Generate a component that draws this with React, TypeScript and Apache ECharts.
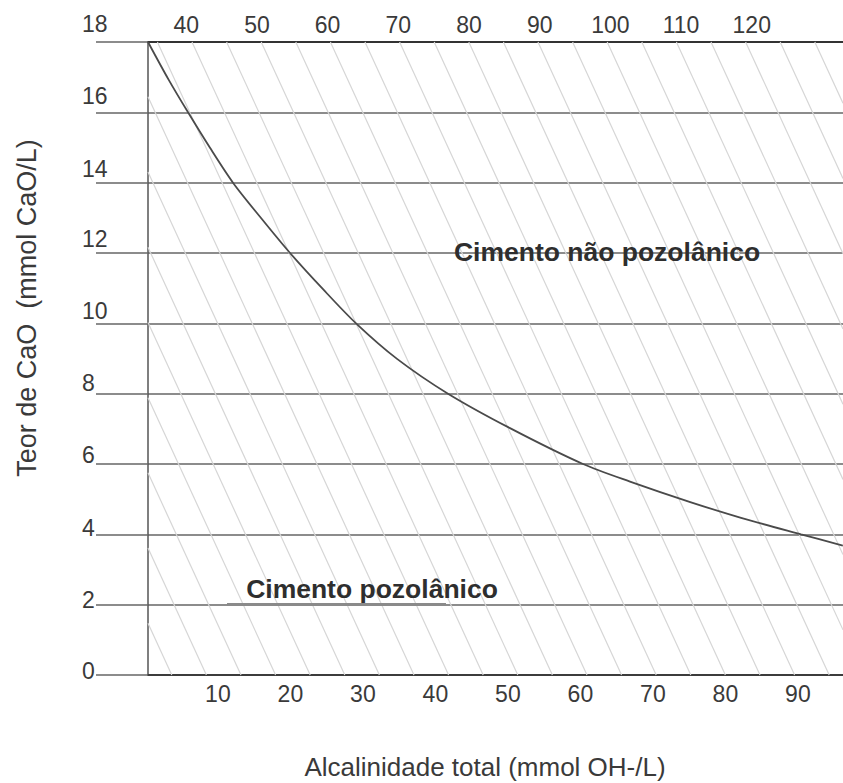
import React, { useEffect, useRef } from "react";
import * as echarts from "echarts";

// ---- data ----
const bottomTicks = [10, 20, 30, 40, 50, 60, 70, 80, 90];
const topTicks = [40, 50, 60, 70, 80, 90, 100, 110, 120];
const yTicks = [0, 2, 4, 6, 8, 10, 12, 14, 16, 18];
const curveX = [0.36, 3.2, 5.88, 8.91, 12.08, 15.81, 19.95, 24.5, 29.05, 34.71, 41.74, 50.29, 60.36, 66.84, 75.26, 82.16, 90.43, 96.2];
const curveY = [18, 16.93, 16, 14.99, 14, 13.03, 12, 10.97, 10, 8.99, 8, 7.02, 6, 5.5, 4.91, 4.47, 4, 3.68];
const pozolanicLine = [11.26, 41.46]; // x-range of the darker segment on the 2 line
const labelNaoPozolanico = "Cimento não pozolânico";
const labelPozolanico = "Cimento pozolânico";
const xTitle = "Alcalinidade total (mmol OH-/L)";
const yTitle = "Teor de CaO  (mmol CaO/L)";

// per-label vertical lift (px) of y tick labels, as in the scan
const yLabelLift: Record<number, number> = { 18: 18, 16: 16, 14: 14, 12: 14, 10: 12, 8: 11, 6: 9, 4: 6, 2: 5, 0: 4 };

const FONT = "'Liberation Sans', Arial, Helvetica, sans-serif";
const TEXT = "#3a3a3a";

export default function App() {
  const ref = useRef<HTMLDivElement>(null);

  useEffect(() => {
    if (!ref.current) return;
    const chart = echarts.init(ref.current, undefined, { renderer: "svg" });

    const rich: Record<string, any> = {};
    yTicks.forEach((v) => {
      rich["o" + v] = {
        fontSize: 23,
        fontFamily: FONT,
        color: TEXT,
        padding: [0, 0, 2 * yLabelLift[v], 0],
      };
    });

    const curveData = curveX.map((x, i) => [x, curveY[i]]);

    const option: any = {
      animation: false,
      backgroundColor: "#ffffff",
      grid: { left: 148, right: 0, top: 42, bottom: 108, containLabel: false },
      xAxis: [
        {
          type: "value",
          position: "bottom",
          min: 0.36,
          max: 96.22,
          axisLine: { show: true, lineStyle: { color: "#3c3c3c", width: 2 } },
          axisTick: { show: false },
          splitLine: { show: false },
          axisLabel: {
            customValues: bottomTicks,
            fontSize: 23,
            fontFamily: FONT,
            color: TEXT,
            margin: 7,
          },
        },
        {
          type: "value",
          position: "top",
          min: 34.59,
          max: 132.91,
          axisLine: { show: true, onZero: false, lineStyle: { color: "#333333", width: 2 } },
          axisTick: { show: false },
          splitLine: { show: false },
          axisLabel: {
            customValues: topTicks,
            fontSize: 23,
            fontFamily: FONT,
            color: TEXT,
            margin: 6,
          },
        },
      ],
      yAxis: {
        type: "value",
        min: 0,
        max: 18,
        interval: 2,
        axisLine: { show: true, lineStyle: { color: "#555555", width: 1.5 } },
        axisTick: { show: true, inside: false, length: 52, lineStyle: { color: "#666666", width: 1.5 } },
        splitLine: { show: true, lineStyle: { color: "#666666", width: 1.5 } },
        axisLabel: {
          align: "left",
          margin: 66,
          formatter: (v: number) => `{o${v}|${v}}`,
          rich,
        },
      },
      series: [
        {
          type: "custom",
          silent: true,
          z: 1,
          xAxisIndex: 0,
          yAxisIndex: 0,
          data: [[0, 0]],
          renderItem: (params: any) => {
            const cs = params.coordSys;
            const x0 = cs.x, y0 = cs.y, w = cs.width, h = cs.height;
            const s = 0.46; // horizontal run per vertical px
            const step = 34.6;
            const children: any[] = [];
            let k = 192;
            while (k > x0 - s * h) k -= step;
            for (; k < x0 + w; k += step) {
              const yA = Math.max(y0, y0 + (x0 - k) / s);
              const yB = Math.min(y0 + h, y0 + (x0 + w - k) / s);
              if (yB <= yA) continue;
              children.push({
                type: "line",
                shape: { x1: k + s * (yA - y0), y1: yA, x2: k + s * (yB - y0), y2: yB },
                style: { stroke: "#d6d6d6", lineWidth: 1.2 },
              });
            }
            return { type: "group", children };
          },
        },
        {
          type: "line",
          xAxisIndex: 0,
          yAxisIndex: 0,
          data: curveData,
          smooth: 0.3,
          symbol: "none",
          z: 5,
          lineStyle: { color: "#4a4a4a", width: 1.8 },
          markLine: {
            silent: true,
            symbol: "none",
            label: { show: false },
            lineStyle: { color: "#8a8a8a", width: 3, type: "solid" },
            data: [[{ coord: [pozolanicLine[0], 2] }, { coord: [pozolanicLine[1], 2] }]],
          },
        },
      ],
      graphic: [
        {
          type: "text",
          x: 485,
          y: 767,
          style: {
            text: xTitle,
            fontSize: 26,
            fontFamily: FONT,
            fill: TEXT,
            textAlign: "center",
            textVerticalAlign: "middle",
          },
        },
        {
          type: "text",
          x: 27,
          y: 308,
          rotation: Math.PI / 2,
          style: {
            text: yTitle,
            fontSize: 27,
            fontFamily: FONT,
            fill: TEXT,
            textAlign: "center",
            textVerticalAlign: "middle",
          },
        },
        {
          type: "text",
          x: 607,
          y: 252,
          z: 10,
          style: {
            text: labelNaoPozolanico,
            fontSize: 26.5,
            fontWeight: "bold",
            fontFamily: FONT,
            fill: "#2e2e2e",
            textAlign: "center",
            textVerticalAlign: "middle",
          },
        },
        {
          type: "text",
          x: 372,
          y: 589,
          z: 10,
          style: {
            text: labelPozolanico,
            fontSize: 26.5,
            fontWeight: "bold",
            fontFamily: FONT,
            fill: "#2e2e2e",
            textAlign: "center",
            textVerticalAlign: "middle",
          },
        },
      ],
    };

    chart.setOption(option);
    return () => chart.dispose();
  }, []);

  return (
    <div
      ref={ref}
      style={{ position: "absolute", left: 0, top: 0, width: 843, height: 783, background: "#fff" }}
    />
  );
}
